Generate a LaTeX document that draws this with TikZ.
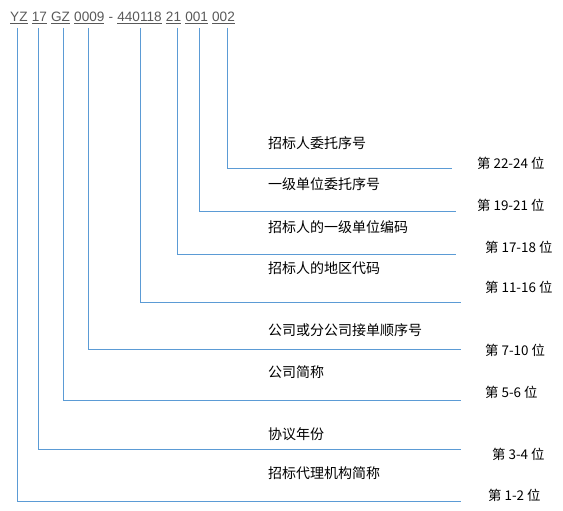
\documentclass[tikz,border=0pt]{standalone}
\usepackage{fontspec}
\setmainfont{Liberation Sans}
\newfontfamily\cjk{Noto Sans CJK SC}
\definecolor{lineblue}{HTML}{5B9BD5}
\definecolor{codegray}{HTML}{595959}
\begin{document}
\begin{tikzpicture}[x=1pt,y=-1pt,
  tok/.style={anchor=base west,inner sep=0pt,font=\fontsize{13.6}{16}\selectfont,text=codegray},
  desc/.style={anchor=west,inner sep=0pt,font=\cjk\fontsize{14}{16}\selectfont},
  poslabel/.style={anchor=west,inner sep=0pt,font=\cjk\fontsize{13.4}{16}\selectfont},
  conn/.style={draw=lineblue,line width=0.9pt}]
\useasboundingbox (0,0) rectangle (563,511);
% code tokens
\node[tok] (t1) at (10,21.5) {\underline{YZ}};
\node[tok] (t2) at ([xshift=3.8pt]t1.base east) {\underline{17}};
\node[tok] (t3) at ([xshift=3.8pt]t2.base east) {\underline{GZ}};
\node[tok] (t4) at ([xshift=3.8pt]t3.base east) {\underline{0009}};
\node[tok] (dash) at ([xshift=3.8pt]t4.base east) {-};
\node[tok] (t5) at ([xshift=3.8pt]dash.base east) {\underline{440118}};
\node[tok] (t6) at ([xshift=3.8pt]t5.base east) {\underline{21}};
\node[tok] (t7) at ([xshift=3.8pt]t6.base east) {\underline{001}};
\node[tok] (t8) at ([xshift=3.8pt]t7.base east) {\underline{002}};
% top ends of the connectors (under each token)
\coordinate (v1) at (17,28);
\coordinate (v2) at (38.5,28);
\coordinate (v3) at (63.5,28);
\coordinate (v4) at (88.5,28);
\coordinate (v5) at (140,28);
\coordinate (v6) at (177,28);
\coordinate (v7) at (199.5,28);
\coordinate (v8) at (227.5,28);
% line ends
\coordinate (e8) at (452,168);
\coordinate (e7) at (456,211);
\coordinate (e6) at (456,254);
\coordinate (e5) at (461,302);
\coordinate (e4) at (461,349);
\coordinate (e3) at (461,400);
\coordinate (e2) at (461,449);
\coordinate (e1) at (461,501);
% connectors
\foreach \i in {1,...,8}{
  \draw[conn] (v\i) |- (e\i);
}
% descriptions
\node[desc] (d8) at (268,143) {招标人委托序号};
\node[desc] (d7) at (268,184) {一级单位委托序号};
\node[desc] (d6) at (268,227) {招标人的一级单位编码};
\node[desc] (d5) at (268,268) {招标人的地区代码};
\node[desc] (d4) at (268,330) {公司或分公司接单顺序号};
\node[desc] (d3) at (268,372) {公司简称};
\node[desc] (d2) at (268,434) {协议年份};
\node[desc] (d1) at (268,473) {招标代理机构简称};
% positions
\node[poslabel] (p8) at (477,163) {第 22-24 位};
\node[poslabel] (p7) at (477,205) {第 19-21 位};
\node[poslabel] (p6) at (485,247) {第 17-18 位};
\node[poslabel] (p5) at (485,287) {第 11-16 位};
\node[poslabel] (p4) at (485,350) {第 7-10 位};
\node[poslabel] (p3) at (485,392) {第 5-6 位};
\node[poslabel] (p2) at (492,454) {第 3-4 位};
\node[poslabel] (p1) at (488,495) {第 1-2 位};
\end{tikzpicture}
\end{document}
